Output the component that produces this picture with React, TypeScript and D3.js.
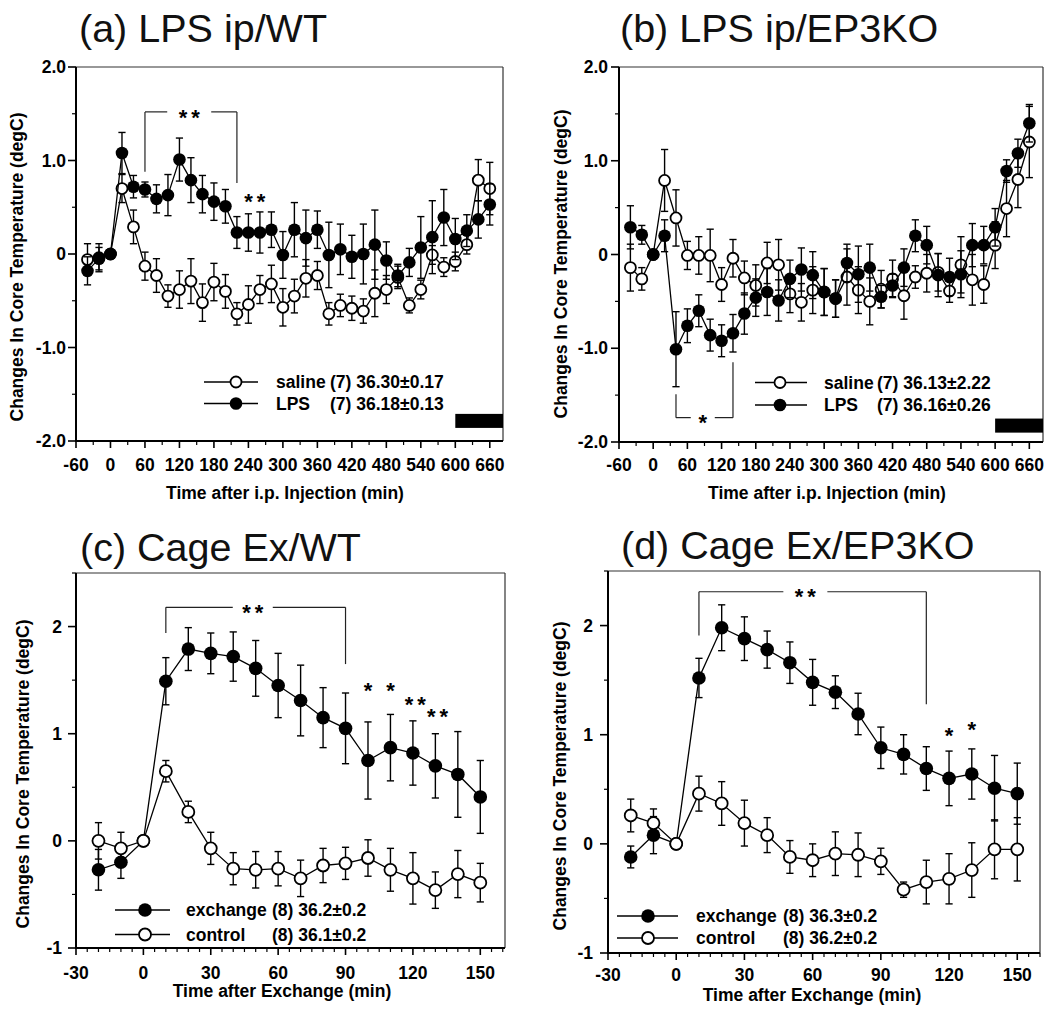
import React from 'react';
import * as d3 from 'd3';

// ---------- data ----------
const lpsTimes = [-40, -20, 0, 20, 40, 60, 80, 100, 120, 140, 160, 180, 200, 220, 240, 260, 280, 300, 320, 340, 360, 380, 400, 420, 440, 460, 480, 500, 520, 540, 560, 580, 600, 620, 640, 660];
const exTimes = [-20, -10, 0, 10, 20, 30, 40, 50, 60, 70, 80, 90, 100, 110, 120, 130, 140, 150];

const aSaline = [-0.06, -0.04, 0, 0.70, 0.29, -0.13, -0.23, -0.45, -0.38, -0.29, -0.52, -0.30, -0.40, -0.64, -0.54, -0.38, -0.32, -0.57, -0.45, -0.26, -0.23, -0.64, -0.55, -0.58, -0.61, -0.42, -0.38, -0.25, -0.55, -0.38, -0.01, -0.14, -0.08, 0.10, 0.79, 0.70];
const aSalineErr = [0.17, 0.15, 0, 0.15, 0.18, 0.15, 0.18, 0.12, 0.2, 0.24, 0.2, 0.2, 0.18, 0.12, 0.2, 0.15, 0.2, 0.2, 0.18, 0.2, 0.15, 0.12, 0.12, 0.13, 0.13, 0.25, 0.15, 0.12, 0.08, 0.1, 0.1, 0.1, 0.1, 0.1, 0.22, 0.28];
const aLPS = [-0.18, -0.05, 0, 1.08, 0.72, 0.69, 0.59, 0.63, 1.01, 0.79, 0.64, 0.56, 0.51, 0.23, 0.23, 0.23, 0.26, -0.01, 0.26, 0.17, 0.26, -0.01, 0.05, -0.03, 0, 0.10, -0.07, -0.23, -0.09, 0.07, 0.18, 0.39, 0.16, 0.25, 0.37, 0.53];
const aLPSErr = [0.15, 0.12, 0, 0.22, 0.12, 0.08, 0.15, 0.22, 0.23, 0.24, 0.2, 0.2, 0.18, 0.17, 0.2, 0.22, 0.19, 0.25, 0.29, 0.3, 0.2, 0.35, 0.27, 0.23, 0.32, 0.37, 0.2, 0.12, 0.15, 0.33, 0.39, 0.3, 0.22, 0.17, 0.2, 0.22];

const bSaline = [-0.14, -0.26, 0, 0.79, 0.39, -0.01, -0.01, -0.01, -0.32, -0.04, -0.25, -0.33, -0.09, -0.11, -0.42, -0.51, -0.38, -0.40, -0.47, -0.24, -0.38, -0.50, -0.37, -0.26, -0.44, -0.24, -0.20, -0.19, -0.39, -0.11, -0.27, -0.32, 0.10, 0.49, 0.80, 1.20];
const bSalineErr = [0.25, 0.12, 0, 0.33, 0.3, 0.15, 0.2, 0.28, 0.18, 0.2, 0.18, 0.22, 0.22, 0.27, 0.2, 0.2, 0.25, 0.25, 0.2, 0.3, 0.25, 0.25, 0.2, 0.2, 0.25, 0.12, 0.2, 0.2, 0.12, 0.3, 0.27, 0.2, 0.25, 0.3, 0.3, 0.38];
const bLPS = [0.29, 0.21, 0, 0.20, -1.01, -0.76, -0.60, -0.86, -0.92, -0.84, -0.63, -0.46, -0.40, -0.49, -0.26, -0.16, -0.22, -0.40, -0.47, -0.09, -0.21, -0.14, -0.45, -0.33, -0.14, 0.20, 0.10, -0.22, -0.24, -0.21, 0.10, 0.10, 0.29, 0.89, 1.08, 1.40];
const bLPSErr = [0.23, 0.1, 0, 0.17, 0.4, 0.18, 0.17, 0.17, 0.17, 0.2, 0.22, 0.2, 0.25, 0.22, 0.2, 0.23, 0.25, 0.25, 0.2, 0.2, 0.3, 0.25, 0.12, 0.12, 0.2, 0.17, 0.2, 0.23, 0.2, 0.25, 0.23, 0.2, 0.2, 0.12, 0.15, 0.2];

const cExchange = [-0.27, -0.20, 0, 1.49, 1.79, 1.75, 1.72, 1.61, 1.45, 1.31, 1.15, 1.05, 0.75, 0.87, 0.82, 0.70, 0.62, 0.41];
const cExchangeErr = [0.19, 0.15, 0, 0.22, 0.2, 0.19, 0.23, 0.26, 0.3, 0.33, 0.28, 0.33, 0.36, 0.31, 0.3, 0.3, 0.4, 0.34];
const cControl = [0.0, -0.07, 0, 0.65, 0.27, -0.07, -0.26, -0.27, -0.26, -0.35, -0.23, -0.21, -0.16, -0.27, -0.35, -0.46, -0.31, -0.39];
const cControlErr = [0.17, 0.15, 0, 0.1, 0.1, 0.15, 0.15, 0.17, 0.16, 0.17, 0.16, 0.15, 0.17, 0.2, 0.24, 0.17, 0.22, 0.18];

const dExchange = [-0.12, 0.08, 0, 1.52, 1.98, 1.88, 1.78, 1.66, 1.48, 1.39, 1.19, 0.88, 0.82, 0.69, 0.60, 0.64, 0.51, 0.46];
const dExchangeErr = [0.1, 0.17, 0, 0.18, 0.21, 0.2, 0.17, 0.19, 0.21, 0.15, 0.19, 0.19, 0.18, 0.2, 0.25, 0.23, 0.3, 0.28];
const dControl = [0.26, 0.19, 0, 0.46, 0.37, 0.19, 0.08, -0.12, -0.15, -0.09, -0.10, -0.16, -0.42, -0.35, -0.32, -0.24, -0.05, -0.05];
const dControlErr = [0.15, 0.13, 0, 0.16, 0.2, 0.21, 0.16, 0.15, 0.15, 0.2, 0.2, 0.12, 0.07, 0.2, 0.23, 0.25, 0.27, 0.29];

const lpsXTicks = [-60, 0, 60, 120, 180, 240, 300, 360, 420, 480, 540, 600, 660];
const lpsYTicks = [2, 1, 0, -1, -2];
const lpsYTickLabels = ['2.0', '1.0', '0', '-1.0', '-2.0'];
const exXTicks = [-30, 0, 30, 60, 90, 120, 150];
const exYTicks = [2, 1, 0, -1];
const exYTickLabels = ['2', '1', '0', '-1'];

const titles = ['(a) LPS ip/WT', '(b) LPS ip/EP3KO', '(c) Cage Ex/WT', '(d) Cage Ex/EP3KO'];
const xAxisTitles = ['Time after i.p. Injection (min)', 'Time after Exchange (min)'];
const yAxisTitle = 'Changes In Core Temperature (degC)';
const legendNamesLPS = ['saline', 'LPS'];
const legendStatsA = ['(7) 36.30\u00b10.17', '(7) 36.18\u00b10.13'];
const legendStatsB = ['(7) 36.13\u00b12.22', '(7) 36.16\u00b10.26'];
const legendNamesEx = ['exchange', 'control'];
const legendStatsC = ['(8) 36.2\u00b10.2', '(8) 36.1\u00b10.2'];
const legendStatsD = ['(8) 36.3\u00b10.2', '(8) 36.2\u00b10.2'];
const darkPeriodStart = 600;

// ---------- layout ----------
const FONT = '"Liberation Sans", Arial, Helvetica, sans-serif';

type Series = { values: number[]; errors: number[]; filled: boolean };
type Bracket = { t0: number; t1: number; yLine: number; y0: number; y1: number; label: string; labelT: number; gap: number };
type Star = { t: number; y: number; label: string };

interface PanelCfg {
  title: string; titleX: number; titleY: number;
  left: number; right: number; top: number; bottom: number;
  xDomain: [number, number]; yDomain: [number, number];
  xTicks: number[]; xMinor: number; yTicks: number[]; yTickLabels: string[]; yMinor: number;
  yLabelOffset: number; xLabelBase: number;
  xTitle: string; xTitleX: number; xTitleY: number;
  yTitleX: number; yTitleY: number;
  times: number[]; series: Series[]; r: number;
  legend: { names: string[]; stats: string[]; filled: boolean[]; ys: number[]; lx0: number; lx1: number; cx: number; nx: number; sx: number };
  bracket: Bracket; stars: Star[];
  dark?: { y0: number; y1: number };
}

const panels: PanelCfg[] = [
  {
    title: titles[0], titleX: 79, titleY: 42,
    left: 76, right: 503, top: 67, bottom: 441,
    xDomain: [-60, 683], yDomain: [-2, 2],
    xTicks: lpsXTicks, xMinor: 30, yTicks: lpsYTicks, yTickLabels: lpsYTickLabels, yMinor: 0.5,
    yLabelOffset: 10, xLabelBase: 30,
    xTitle: xAxisTitles[0], xTitleX: 285, xTitleY: 499,
    yTitleX: 23, yTitleY: 267,
    times: lpsTimes, r: 6.3,
    series: [
      { values: aSaline, errors: aSalineErr, filled: false },
      { values: aLPS, errors: aLPSErr, filled: true },
    ],
    legend: { names: legendNamesLPS, stats: legendStatsA, filled: [false, true], ys: [382, 403.5], lx0: 204, lx1: 258, cx: 236, nx: 276, sx: 330 },
    bracket: { t0: 60, t1: 220, yLine: 1.52, y0: 0.88, y1: 0.76, label: '**', labelT: 137, gap: 22 },
    stars: [{ t: 240, y: 0.62, label: '*' }, { t: 262, y: 0.62, label: '*' }],
    dark: { y0: -1.71, y1: -1.86 },
  },
  {
    title: titles[1], titleX: 620, titleY: 42,
    left: 619, right: 1043, top: 67, bottom: 442,
    xDomain: [-60, 684], yDomain: [-2, 2],
    xTicks: lpsXTicks, xMinor: 30, yTicks: lpsYTicks, yTickLabels: lpsYTickLabels, yMinor: 0.5,
    yLabelOffset: 11, xLabelBase: 29,
    xTitle: xAxisTitles[0], xTitleX: 827, xTitleY: 499,
    yTitleX: 567, yTitleY: 264,
    times: lpsTimes, r: 6.3,
    series: [
      { values: bSaline, errors: bSalineErr, filled: false },
      { values: bLPS, errors: bLPSErr, filled: true },
    ],
    legend: { names: legendNamesLPS, stats: legendStatsB, filled: [false, true], ys: [382.5, 405], lx0: 755, lx1: 807, cx: 780, nx: 824, sx: 877 },
    bracket: { t0: 40, t1: 140, yLine: -1.74, y0: -1.49, y1: -1.15, label: '*', labelT: 87, gap: 12 },
    stars: [],
    dark: { y0: -1.75, y1: -1.90 },
  },
  {
    title: titles[2], titleX: 80, titleY: 561,
    left: 76, right: 505, top: 573, bottom: 948,
    xDomain: [-30, 161], yDomain: [-1, 2.5],
    xTicks: exXTicks, xMinor: 5, yTicks: exYTicks, yTickLabels: exYTickLabels, yMinor: 0.5,
    yLabelOffset: 14, xLabelBase: 31,
    xTitle: xAxisTitles[1], xTitleX: 282, xTitleY: 997,
    yTitleX: 29, yTitleY: 774,
    times: exTimes, r: 6.8,
    series: [
      { values: cExchange, errors: cExchangeErr, filled: true },
      { values: cControl, errors: cControlErr, filled: false },
    ],
    legend: { names: legendNamesEx, stats: legendStatsC, filled: [true, false], ys: [910, 934.5], lx0: 115, lx1: 170, cx: 145, nx: 186, sx: 272 },
    bracket: { t0: 10, t1: 90, yLine: 2.18, y0: 1.94, y1: 1.65, label: '**', labelT: 48.7, gap: 20 },
    stars: [{ t: 100, y: 1.45, label: '*' }, { t: 110, y: 1.45, label: '*' }, { t: 121, y: 1.32, label: '**' }, { t: 131, y: 1.21, label: '**' }],
  },
  {
    title: titles[3], titleX: 621, titleY: 559,
    left: 608, right: 1040, top: 571, bottom: 953,
    xDomain: [-30, 160], yDomain: [-1, 2.5],
    xTicks: exXTicks, xMinor: 5, yTicks: exYTicks, yTickLabels: exYTickLabels, yMinor: 0.5,
    yLabelOffset: 15, xLabelBase: 28,
    xTitle: xAxisTitles[1], xTitleX: 812, xTitleY: 1001,
    yTitleX: 566, yTitleY: 776,
    times: exTimes, r: 6.8,
    series: [
      { values: dExchange, errors: dExchangeErr, filled: true },
      { values: dControl, errors: dControlErr, filled: false },
    ],
    legend: { names: legendNamesEx, stats: legendStatsD, filled: [true, false], ys: [916, 938], lx0: 617, lx1: 678, cx: 648, nx: 696, sx: 783 },
    bracket: { t0: 10, t1: 110, yLine: 2.31, y0: 1.91, y1: 1.28, label: '**', labelT: 56.8, gap: 22 },
    stars: [{ t: 120, y: 1.04, label: '*' }, { t: 130, y: 1.10, label: '*' }],
  },
];

function Stars({ x, y, label, size }: { x: number; y: number; label: string; size: number }) {
  // draw each asterisk separately so spacing matches the original
  const n = label.length;
  const spacing = 12.5;
  return (
    <g>
      {label.split('').map((ch, i) => (
        <text key={i} x={x + (i - (n - 1) / 2) * spacing} y={y + 0.58 * size} textAnchor="middle"
          fontFamily={FONT} fontWeight="bold" fontSize={size}>{ch}</text>
      ))}
    </g>
  );
}

function Panel({ p }: { p: PanelCfg }) {
  const x = d3.scaleLinear().domain(p.xDomain).range([p.left, p.right]);
  const y = d3.scaleLinear().domain(p.yDomain).range([p.bottom, p.top]);
  const line = d3.line<number>().x((_, i) => x(p.times[i])).y((v) => y(v));
  const xMinorTicks = d3.range(p.xDomain[0], p.xDomain[1] + 0.001, p.xMinor).filter((t) => !p.xTicks.includes(t));
  const yMinorTicks = d3.range(p.yDomain[0], p.yDomain[1] + 0.001, p.yMinor).filter((t) => !p.yTicks.includes(t));
  const cap = 3.6;
  const starSize = 22;
  const b = p.bracket;
  const bx0 = x(b.t0), bx1 = x(b.t1), by = y(b.yLine), bl = x(b.labelT);

  return (
    <g>
      <text x={p.titleX} y={p.titleY} fontFamily={FONT} fontSize={39.5} fill="#111">{p.title}</text>
      {/* frame */}
      <line x1={p.left} x2={p.right} y1={p.top} y2={p.top} stroke="#333" strokeWidth={1.2} />
      <line x1={p.right} x2={p.right} y1={p.top} y2={p.bottom} stroke="#333" strokeWidth={1.2} />
      <line x1={p.left} x2={p.left} y1={p.top} y2={p.bottom + 1} stroke="#000" strokeWidth={2} />
      <line x1={p.left - 1} x2={p.right} y1={p.bottom} y2={p.bottom} stroke="#000" strokeWidth={2} />
      {/* y ticks */}
      {p.yTicks.map((t, i) => (
        <g key={'yt' + i}>
          <line x1={p.left - 8} x2={p.left} y1={y(t)} y2={y(t)} stroke="#000" strokeWidth={1.6} />
          <text x={p.left - p.yLabelOffset} y={y(t) + 6} textAnchor="end" fontFamily={FONT} fontWeight="bold" fontSize={17.5}>{p.yTickLabels[i]}</text>
        </g>
      ))}
      {yMinorTicks.map((t, i) => (
        <line key={'ym' + i} x1={p.left - 4} x2={p.left} y1={y(t)} y2={y(t)} stroke="#000" strokeWidth={1.2} />
      ))}
      {/* x ticks */}
      {p.xTicks.map((t, i) => (
        <g key={'xt' + i}>
          <line x1={x(t)} x2={x(t)} y1={p.bottom} y2={p.bottom + 7} stroke="#000" strokeWidth={1.6} />
          <text x={x(t)} y={p.bottom + p.xLabelBase} textAnchor="middle" fontFamily={FONT} fontWeight="bold" fontSize={17.5}>{String(t)}</text>
        </g>
      ))}
      {xMinorTicks.map((t, i) => (
        <line key={'xm' + i} x1={x(t)} x2={x(t)} y1={p.bottom} y2={p.bottom + 4} stroke="#000" strokeWidth={1.2} />
      ))}
      {/* axis titles */}
      <text x={p.xTitleX} y={p.xTitleY} textAnchor="middle" fontFamily={FONT} fontWeight="bold" fontSize={17.5}>{p.xTitle}</text>
      <text transform={`translate(${p.yTitleX},${p.yTitleY}) rotate(-90)`} textAnchor="middle" fontFamily={FONT} fontWeight="bold" fontSize={17.5}>{yAxisTitle}</text>
      {/* dark period */}
      {p.dark && (
        <rect x={x(darkPeriodStart)} y={y(p.dark.y0)} width={p.right - x(darkPeriodStart)} height={y(p.dark.y1) - y(p.dark.y0)} fill="#000" />
      )}
      {/* series */}
      {p.series.map((s, si) => (
        <g key={'s' + si}>
          <path d={line(s.values) || ''} fill="none" stroke="#000" strokeWidth={1.3} />
          {s.values.map((v, i) => s.errors[i] > 0 ? (
            <g key={'e' + i} stroke="#000" strokeWidth={1.4}>
              <line x1={x(p.times[i])} x2={x(p.times[i])} y1={y(v + s.errors[i])} y2={y(v - s.errors[i])} />
              <line x1={x(p.times[i]) - cap} x2={x(p.times[i]) + cap} y1={y(v + s.errors[i])} y2={y(v + s.errors[i])} />
              <line x1={x(p.times[i]) - cap} x2={x(p.times[i]) + cap} y1={y(v - s.errors[i])} y2={y(v - s.errors[i])} />
            </g>
          ) : null)}
          {s.values.map((v, i) => (
            <circle key={'c' + i} cx={x(p.times[i])} cy={y(v)} r={s.filled ? p.r : p.r - 0.8} fill={s.filled ? '#000' : '#fff'} stroke="#000" strokeWidth={s.filled ? 0 : 1.8} />
          ))}
        </g>
      ))}
      {/* bracket */}
      <g stroke="#222" strokeWidth={1.2} fill="none">
        <line x1={bx0} x2={bl - b.gap} y1={by} y2={by} />
        <line x1={bl + b.gap} x2={bx1} y1={by} y2={by} />
        <line x1={bx0} x2={bx0} y1={by} y2={y(b.y0)} />
        <line x1={bx1} x2={bx1} y1={by} y2={y(b.y1)} />
      </g>
      <Stars x={bl} y={by} label={b.label} size={starSize} />
      {p.stars.map((s, i) => (
        <Stars key={'st' + i} x={x(s.t)} y={y(s.y)} label={s.label} size={starSize} />
      ))}
      {/* legend */}
      {p.legend.names.map((n, i) => (
        <g key={'lg' + i}>
          <line x1={p.legend.lx0} x2={p.legend.lx1} y1={p.legend.ys[i]} y2={p.legend.ys[i]} stroke="#000" strokeWidth={1.3} />
          <circle cx={p.legend.cx} cy={p.legend.ys[i]} r={p.legend.filled[i] ? p.r : p.r - 0.8} fill={p.legend.filled[i] ? '#000' : '#fff'} stroke="#000" strokeWidth={p.legend.filled[i] ? 0 : 1.8} />
          <text x={p.legend.nx} y={p.legend.ys[i] + 6} fontFamily={FONT} fontWeight="bold" fontSize={17.5}>{n}</text>
          <text x={p.legend.sx} y={p.legend.ys[i] + 6} fontFamily={FONT} fontWeight="bold" fontSize={17.5}>{p.legend.stats[i]}</text>
        </g>
      ))}
    </g>
  );
}

export default function App() {
  return (
    <svg width={1049} height={1010} viewBox="0 0 1049 1010" style={{ position: 'absolute', left: 0, top: 0, background: '#fff' }}>
      <rect x={0} y={0} width={1049} height={1010} fill="#fff" />
      {panels.map((p, i) => <Panel key={i} p={p} />)}
    </svg>
  );
}
